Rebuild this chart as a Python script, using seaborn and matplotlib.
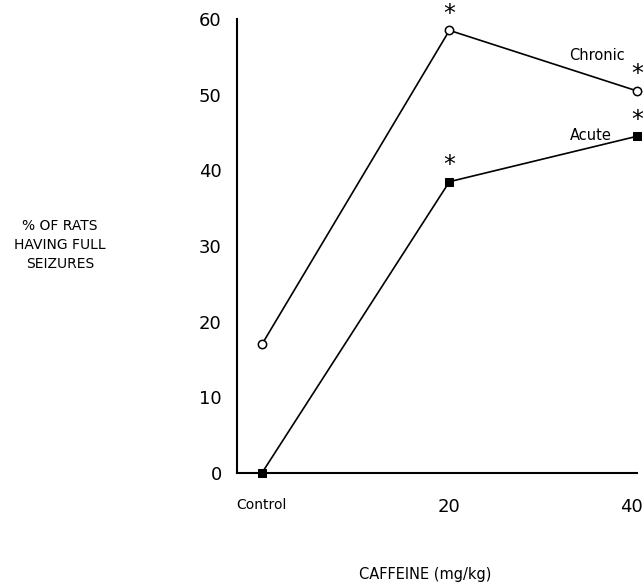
import matplotlib
matplotlib.use("Agg")
import matplotlib.pyplot as plt
import seaborn as sns
import pandas as pd

categories = ["Control", "20", "40"]
chronic = [17, 58.5, 50.5]
acute = [0, 38.5, 44.5]
y_ticks = [0, 10, 20, 30, 40, 50, 60]

sns.set_theme(style="white")
plt.rcParams['font.family'] = ['DejaVu Sans']
plt.rcParams['text.color'] = 'black'

fig = plt.figure(figsize=(6.44, 5.85), dpi=100)
ax = fig.add_axes([0.368, 0.1915, 0.621, 0.776])

df_c = pd.DataFrame({"x": categories, "y": chronic})
df_a = pd.DataFrame({"x": categories, "y": acute})

sns.lineplot(data=df_c, x="x", y="y", ax=ax, color="black", lw=1.2,
             marker="o", markersize=6, markerfacecolor="white",
             markeredgecolor="black", markeredgewidth=1.1, clip_on=False)
sns.lineplot(data=df_a, x="x", y="y", ax=ax, color="black", lw=1.2,
             marker="s", markersize=6, markerfacecolor="black",
             markeredgecolor="black", clip_on=False)

ax.set_xlim(-0.133, 2.0)
ax.set_ylim(0, 60)
ax.set_yticks(y_ticks)
ax.set_yticklabels([str(v) for v in y_ticks], fontsize=13)
ax.set_xticks(range(len(categories)))
# last label drawn separately so that it stays inside the figure edge
ax.set_xticklabels(categories[:-1] + [""])
for lab in ax.get_xticklabels():
    lab.set_fontsize(10 if lab.get_text() == "Control" else 13)
ax.annotate(categories[-1], (len(categories) - 1, 0), xycoords=("data", "axes fraction"),
            xytext=(-4, -18), textcoords="offset points", ha="center", va="top",
            fontsize=13, annotation_clip=False)

for s in ["top", "right"]:
    ax.spines[s].set_visible(False)
for s in ["left", "bottom"]:
    ax.spines[s].set_color("black")
    ax.spines[s].set_linewidth(1.5)
ax.tick_params(axis="y", direction="in", length=6, width=1.3, pad=11, colors="black")
ax.tick_params(axis="x", direction="in", length=5, width=1.3, pad=18, colors="black")
ax.set_xlabel("")
ax.set_ylabel("")

# significance asterisks
for xi, yi in [(1, chronic[1]), (2, chronic[2]), (1, acute[1]), (2, acute[2])]:
    ax.annotate("*", (xi, yi), xytext=(0, 12), textcoords="offset points",
                ha="center", va="center", fontsize=17, annotation_clip=False)

ax.text(1.64, 55.2, "Chronic", fontsize=10.5, ha="left", va="center")
ax.text(1.64, 44.6, "Acute", fontsize=10.5, ha="left", va="center")

fig.text(60 / 644, 1 - 245 / 585, "% OF RATS\nHAVING FULL\nSEIZURES",
         ha="center", va="center", fontsize=10, linespacing=1.45)
fig.text(425 / 644, 1 - 575 / 585, "CAFFEINE (mg/kg)", ha="center",
         va="center", fontsize=10.5)

fig.savefig("out.png", dpi=100)
